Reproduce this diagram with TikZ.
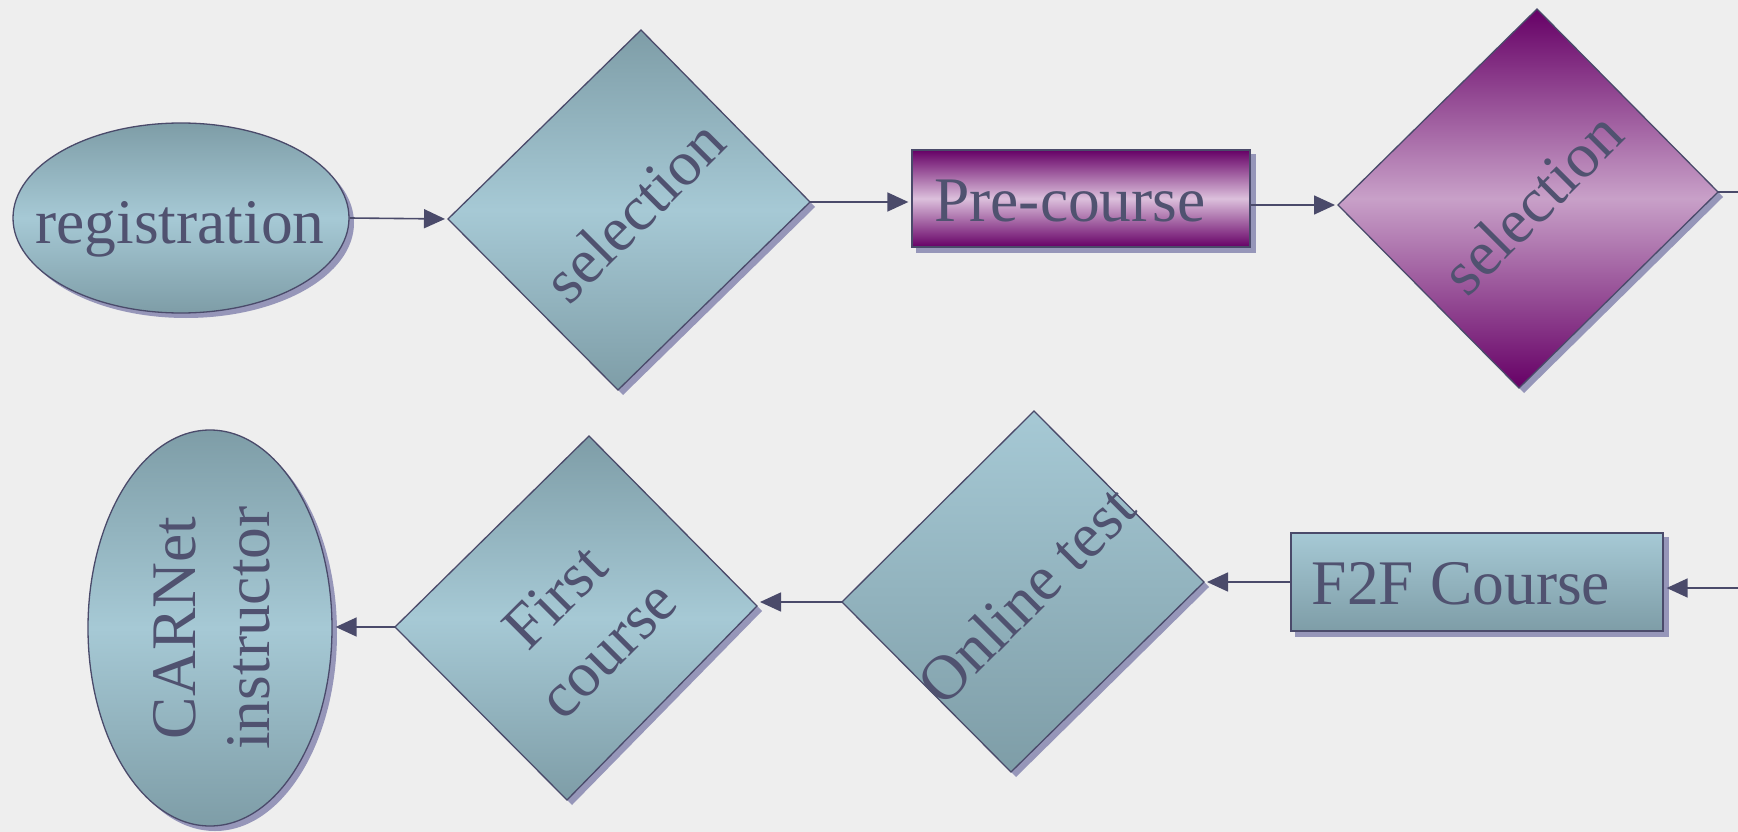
\documentclass[tikz,border=0pt]{standalone}
\usepackage{fontspec}
\setmainfont{Liberation Serif}
\usetikzlibrary{shapes.geometric,arrows.meta,calc}
\pgfdeclarelayer{bgl}
\pgfdeclarelayer{shl}
\pgfsetlayers{bgl,shl,main}
\definecolor{bg}{RGB}{238,238,238}
\definecolor{bdark}{RGB}{126,157,167}
\definecolor{blight}{RGB}{166,201,213}
\definecolor{pdark}{RGB}{102,0,102}
\definecolor{plight}{RGB}{200,160,200}
\definecolor{plighttwo}{RGB}{220,192,220}
\definecolor{outl}{RGB}{74,74,106}
\definecolor{shad}{RGB}{150,150,185}
\definecolor{txt}{RGB}{80,82,112}
\tikzset{
  shapeline/.style={draw=outl, line width=1.3pt},
  lbl/.style={text=txt, font=\fontsize{63.5}{74}\selectfont, inner sep=0pt, align=center},
  conn/.style={draw=outl, line width=1.6pt, -{Triangle[length=21pt,width=19pt]}, shorten >=3pt},
  shd/.style={fill=shad},
  bluesym/.style={top color=bdark, bottom color=bdark, middle color=blight},
  bluedown/.style={top color=blight, bottom color=bdark},
  purpsym/.style={top color=pdark, bottom color=pdark, middle color=plight},
  purprect/.style={top color=pdark, bottom color=pdark, middle color=plighttwo},
}
\begin{document}
\begin{tikzpicture}[x=1pt,y=-1pt]
\useasboundingbox (0,0) rectangle (1738,832);
\clip (0,0) rectangle (1738,832);
\begin{pgfonlayer}{bgl}
\fill[bg] (0,0) rectangle (1738,832);
\end{pgfonlayer}

% diamond corners
\coordinate (s1t) at (641,30);   \coordinate (s1r) at (810,202);
\coordinate (s1b) at (618,390);  \coordinate (s1l) at (448,219);
\coordinate (s2t) at (1537,9);   \coordinate (s2r) at (1718,192);
\coordinate (s2b) at (1519,388); \coordinate (s2l) at (1338,205);
\coordinate (olt) at (1034,411); \coordinate (olr) at (1204,582);
\coordinate (olb) at (1011,772); \coordinate (oll) at (842,602);
\coordinate (fct) at (589,436);  \coordinate (fcr) at (757,606);
\coordinate (fcb) at (567,800);  \coordinate (fcl) at (395,627);
\coordinate (offr) at (1800,588);

% shapes
\node[ellipse, shapeline, bluesym, minimum width=336pt, minimum height=190pt, inner sep=0pt] (reg) at (181,218) {};
\node[rectangle, shapeline, purprect, minimum width=338pt, minimum height=97pt, inner sep=0pt] (pre) at (1081,198.5) {};
\node[rectangle, shapeline, bluedown, minimum width=372pt, minimum height=98pt, inner sep=0pt] (f2f) at (1477,582) {};
\node[ellipse, shapeline, bluesym, minimum width=244pt, minimum height=396pt, inner sep=0pt] (car) at (210,628) {};
\draw[shapeline, bluesym] (s1t) -- (s1r) -- (s1b) -- (s1l) -- cycle;
\draw[shapeline, purpsym] (s2t) -- (s2r) -- (s2b) -- (s2l) -- cycle;
\draw[shapeline, bluedown] (olt) -- (olr) -- (olb) -- (oll) -- cycle;
\draw[shapeline, bluesym] (fct) -- (fcr) -- (fcb) -- (fcl) -- cycle;

% shadows
\begin{pgfonlayer}{shl}
\fill[shd] ([shift={(5,5)}]reg.center) ellipse [x radius=168pt, y radius=95pt];
\fill[shd] ([shift={(5,5)}]car.center) ellipse [x radius=122pt, y radius=198pt];
\fill[shd] ([shift={(5,5)}]pre.north west) rectangle ([shift={(5,5)}]pre.south east);
\fill[shd] ([shift={(5,5)}]f2f.north west) rectangle ([shift={(5,5)}]f2f.south east);
\fill[shd] ([shift={(5,5)}]s1t) -- ([shift={(5,5)}]s1r) -- ([shift={(5,5)}]s1b) -- ([shift={(5,5)}]s1l) -- cycle;
\fill[shd] ([shift={(5,5)}]s2t) -- ([shift={(5,5)}]s2r) -- ([shift={(5,5)}]s2b) -- ([shift={(5,5)}]s2l) -- cycle;
\fill[shd] ([shift={(5,5)}]olt) -- ([shift={(5,5)}]olr) -- ([shift={(5,5)}]olb) -- ([shift={(5,5)}]oll) -- cycle;
\fill[shd] ([shift={(5,5)}]fct) -- ([shift={(5,5)}]fcr) -- ([shift={(5,5)}]fcb) -- ([shift={(5,5)}]fcl) -- cycle;
\end{pgfonlayer}

% labels
\node[lbl, anchor=base] (regt) at (180,243) {registration};
\node[lbl, rotate=45] (s1t-txt) at (634,211) {selection};
\node[lbl, anchor=base] (pret) at (1070,222) {Pre-course};
\node[lbl, rotate=45] (s2t-txt) at (1532,203) {selection};
\node[lbl, anchor=base] (f2ft) at (1461,604) {F2F Course};
\node[lbl, rotate=45] (olt-txt) at (1026,595) {Online test};
\node[lbl, rotate=45] (fct-txt) at (581,623) {First\\course};
\node[lbl, rotate=90] (cart) at (212,628) {CARNet\\instructor};

% connectors
\draw[conn] (reg.east) -- (s1l);
\draw[conn] (s1r) -- (s1r -| pre.west);
\draw[conn] (s2l -| pre.east) -- (s2l);
\draw[conn] (s2r) -- (s2r -| offr) -- (offr) -- (offr -| f2f.east);
\draw[conn] (olr -| f2f.west) -- (olr);
\draw[conn] (oll) -- (oll -| fcr);
\draw[conn] (fcl) -- (fcl -| car.east);
\end{tikzpicture}
\end{document}
